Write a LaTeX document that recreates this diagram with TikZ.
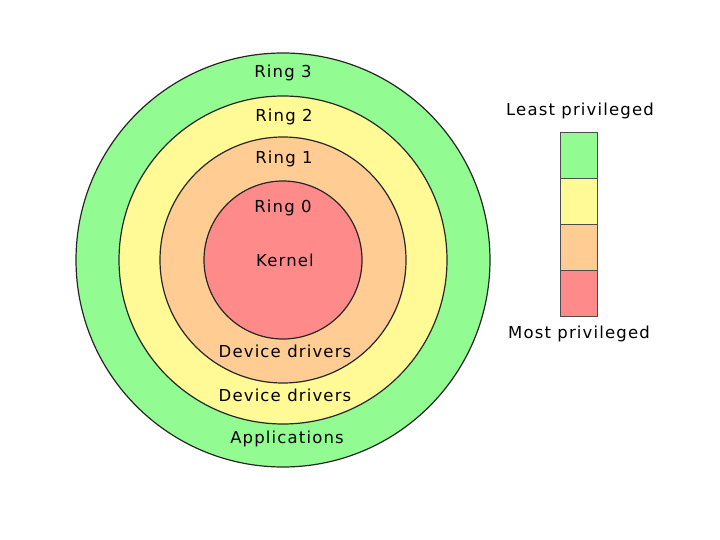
\documentclass[tikz,border=0pt]{standalone}
\usepackage{fontspec}
\setmainfont{DejaVu Sans}[LetterSpace=7]

\definecolor{ringthree}{RGB}{146,252,146}
\definecolor{ringtwo}{RGB}{255,250,150}
\definecolor{ringone}{RGB}{255,205,148}
\definecolor{ringzero}{RGB}{255,138,138}

\begin{document}
\begin{tikzpicture}[x=1pt,y=-1pt,
    ring/.style={draw=black!85, line width=1.2pt},
    lbl/.style={font=\fontsize{16.5}{18}\selectfont, text=black}]

\useasboundingbox (0,0) rectangle (720,540);

\filldraw[ring, fill=ringthree] (283,260) circle(207); % Ring 3
\filldraw[ring, fill=ringtwo]   (283,260) circle(164); % Ring 2
\filldraw[ring, fill=ringone]   (283,260) circle(123); % Ring 1
\filldraw[ring, fill=ringzero]  (283,260) circle(79);  % Ring 0

\node[lbl] (r3)   at (283,73)  {Ring 3};
\node[lbl] (r2)   at (284,117) {Ring 2};
\node[lbl] (r1)   at (284,159) {Ring 1};
\node[lbl] (r0)   at (283,208) {Ring 0};
\node[lbl] (kern) at (285,260) {Kernel};
\node[lbl] (dd1)  at (285,351) {Device drivers};
\node[lbl] (dd2)  at (285,395) {Device drivers};
\node[lbl] (app)  at (287,439) {Applications};

% legend
\begin{scope}[draw=black!70, line width=0.9pt]
\filldraw[fill=ringthree] (560,132) rectangle (597,178);
\filldraw[fill=ringtwo]   (560,178) rectangle (597,224);
\filldraw[fill=ringone]   (560,224) rectangle (597,270);
\filldraw[fill=ringzero]  (560,270) rectangle (597,316);
\end{scope}

\node[lbl] (least) at (580,111) {Least privileged};
\node[lbl] (most)  at (579,334) {Most privileged};

\end{tikzpicture}
\end{document}
